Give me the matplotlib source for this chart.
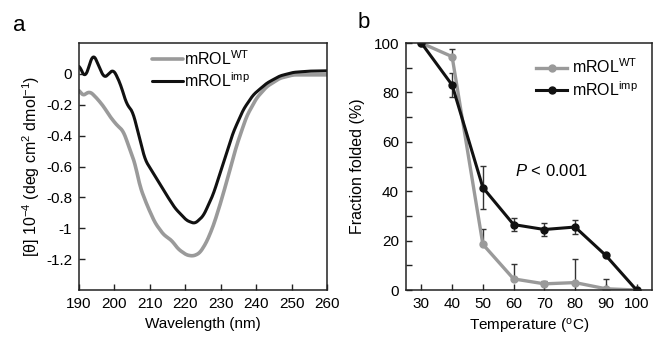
import numpy as np
import matplotlib
matplotlib.use("Agg")
import matplotlib.pyplot as plt

plt.rcParams['font.family'] = ['Liberation Sans', 'DejaVu Sans']
plt.rcParams['mathtext.fontset'] = 'custom'
plt.rcParams['mathtext.rm'] = 'Liberation Sans'
plt.rcParams['mathtext.it'] = 'Liberation Sans:italic'

# CD spectra (panel a)
wl_wt = [190, 191, 191.7, 193.1, 195, 196.9, 198.7, 200.6, 202.5, 203.9, 205.8, 207.2,
         209.1, 211.4, 213.8, 216.2, 218, 220.4, 222.3, 224.1, 226, 227.9, 229.7,
         231.6, 234.4, 237.3, 240.1, 243, 246.7, 250.5, 255, 260]
cd_wt = [-0.10, -0.146, -0.13, -0.114, -0.157, -0.21, -0.275, -0.33, -0.37, -0.46, -0.58,
         -0.73, -0.845, -0.963, -1.04, -1.08, -1.135, -1.174, -1.18, -1.16, -1.09, -0.985,
         -0.856, -0.705, -0.47, -0.275, -0.157, -0.082, -0.028, -0.006, -0.006, -0.006]
wl_imp = [190, 191.7, 194.0, 197.1, 199.7, 201.6, 203.5, 205.1, 206.7, 208.6, 211.4,
          214.3, 217.1, 220.4, 222.7, 225.1, 227.9, 230.7, 233.5, 236.4, 239.2, 243,
          246.7, 250.5, 255, 260]
cd_imp = [0.058, -0.028, 0.133, -0.028, 0.03, -0.06, -0.2, -0.24, -0.38, -0.555, -0.66,
          -0.77, -0.87, -0.95, -0.97, -0.92, -0.78, -0.58, -0.38, -0.23, -0.135, -0.06,
          -0.013, 0.01, 0.018, 0.02]

# thermal unfolding (panel b)
temps = [30, 40, 50, 60, 70, 80, 90, 100]
fold_wt = [100, 94.5, 18.5, 4.5, 2.5, 3, 0.5, 0]
err_wt = [0, 3, 6.3, 6, 1, 9.5, 4, 0]
fold_imp = [100, 83, 41.5, 26.5, 24.5, 25.5, 14, 0]
err_imp = [0, 5, 8.7, 2.5, 2.5, 3, 0, 0]

lbl_wt = r'mROL$^{\mathrm{WT}}$'
lbl_imp = r'mROL$^{\mathrm{imp}}$'
gray = '#9a9a9a'
dark = '#111111'

fig = plt.figure(figsize=(6.7, 3.43), dpi=100)
ax1 = fig.add_axes([0.118, 0.1545, 0.37, 0.72])
ax2 = fig.add_axes([0.606, 0.1545, 0.367, 0.72])


def smooth(x, y):
    xs = np.linspace(x[0], x[-1], 400)
    ys = np.interp(xs, x, y)
    return xs, np.convolve(np.pad(ys, 4, mode='edge'), np.ones(9) / 9, mode='valid')


for ax in (ax1, ax2):
    for s in ax.spines.values():
        s.set_linewidth(1.1)
        s.set_color('#222222')
    ax.tick_params(direction='in', length=4, width=1, labelsize=11, color='#222222', pad=5)
    ax.tick_params(which='minor', direction='in', length=4, width=1, color='#222222')

# panel a
ax1.plot(*smooth(wl_wt, cd_wt), color=gray, lw=2.6, label=lbl_wt, solid_capstyle='round')
ax1.plot(*smooth(wl_imp, cd_imp), color=dark, lw=2.2, label=lbl_imp, solid_capstyle='round')
ax1.set_xlim(190, 260)
ax1.set_ylim(-1.4, 0.2)
ax1.set_xticks(range(190, 261, 10))
yt = [0, -0.2, -0.4, -0.6, -0.8, -1, -1.2]
ax1.set_yticks(yt)
ax1.set_yticklabels(['0', '-0.2', '-0.4', '-0.6', '-0.8', '-1', '-1.2'])
ax1.set_xlabel('Wavelength (nm)', fontsize=11, labelpad=4)
ax1.set_ylabel(r'[θ] 10$^{-4}$ (deg cm$^{2}$ dmol$^{-1}$)', fontsize=11.5, labelpad=3)
ax1.legend(loc='upper left', bbox_to_anchor=(0.25, 1.02), frameon=False, fontsize=11.5,
           handlelength=1.9, handletextpad=0.1, labelspacing=0.2, borderaxespad=0.3)

# panel b
ax2.errorbar(temps, fold_wt, yerr=[np.zeros(len(err_wt)), err_wt], fmt='none',
             ecolor='#333333', elinewidth=1, capsize=2.5, capthick=1)
ax2.errorbar(temps, fold_imp, yerr=err_imp, fmt='none',
             ecolor='#333333', elinewidth=1, capsize=2.5, capthick=1)
ax2.plot(temps, fold_wt, color=gray, lw=2.4, marker='o', ms=5, label=lbl_wt)
ax2.plot(temps, fold_imp, color=dark, lw=2.2, marker='o', ms=5, label=lbl_imp)
ax2.set_xlim(25, 105)
ax2.set_ylim(0, 100)
ax2.set_xticks(temps)
ax2.set_yticks(range(0, 101, 20))
ax2.set_yticks(range(10, 100, 20), minor=True)
ax2.set_xlabel(r'Temperature ($^{\mathrm{o}}$C)', fontsize=11, labelpad=4)
ax2.set_ylabel('Fraction folded (%)', fontsize=11.5, labelpad=6)
ax2.text(60.3, 48, r'$\it{P}$ < 0.001', fontsize=12, va='center', ha='left')
ax2.legend(loc='upper right', frameon=False, fontsize=11.5, handlelength=1.9,
           handletextpad=0.3, labelspacing=0.25, borderaxespad=0.5)

fig.text(0.02, 0.925, 'a', fontsize=16, va='center')
fig.text(0.533, 0.935, 'b', fontsize=16, va='center')

fig.savefig('out.png', dpi=100)
